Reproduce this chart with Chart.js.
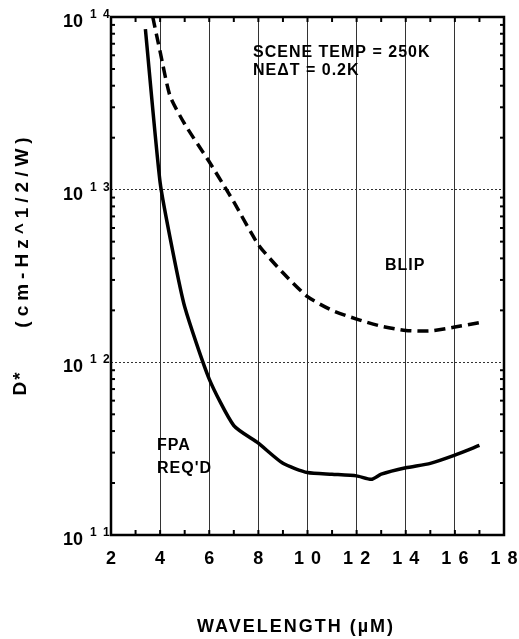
<!DOCTYPE html>
<html>
<head>
<meta charset="utf-8">
<script src="https://cdn.jsdelivr.net/npm/chart.js@4.4.0/dist/chart.umd.min.js"></script>
<style>
  body { margin: 0; background: #fff; }
  #wrap { width: 519px; height: 639px; }
</style>
</head>
<body>
<div id="wrap"><canvas id="chart_dstar" width="519" height="639"></canvas></div>
<script>
// wavelength (uM) vs D* (cm-Hz^1/2/W)
const fpaWavelength = [3.4, 4.0, 4.5, 5.0, 6.0, 7.0, 8.0, 9.0, 10.0, 11.0, 12.0, 12.6, 13.0, 14.0, 15.0, 16.0, 17.0];
const fpaDstar = [8.5e13, 1.1e13, 4.5e12, 2.1e12, 8.0e11, 4.3e11, 3.4e11, 2.6e11, 2.3e11, 2.25e11, 2.2e11, 2.1e11, 2.25e11, 2.45e11, 2.6e11, 2.9e11, 3.3e11];

const blipWavelength = [3.7, 4.0, 4.4, 5.0, 6.0, 6.7, 7.0, 8.0, 9.0, 10.0, 11.0, 12.0, 13.0, 14.0, 15.0, 16.0, 17.0];
const blipDstar = [1e14, 6.3e13, 3.5e13, 2.4e13, 1.45e13, 1.0e13, 8.5e12, 4.8e12, 3.3e12, 2.4e12, 2.0e12, 1.78e12, 1.62e12, 1.53e12, 1.52e12, 1.6e12, 1.7e12];

// axes
const xTickValues = [2, 4, 6, 8, 10, 12, 14, 16, 18];
const xTickLabels = ["2", "4", "6", "8", "10", "12", "14", "16", "18"];
const xMinorTicks = [3, 4, 5, 6, 7, 8, 9, 10, 11, 12, 13, 14, 15, 16, 17];
const yDecades = [11, 12, 13, 14];
const yMinorMultipliers = [2, 3, 4, 5, 6, 7, 8, 9];

const FONT = "'Liberation Sans', Arial, sans-serif";

// vẽ khung, nhãn, chú thích
const decorPlugin = {
    id: "decor",
    afterDraw(chart) {
        const { ctx, chartArea: a, scales: { x, y } } = chart;
        ctx.save();
        ctx.strokeStyle = "#000";
        ctx.fillStyle = "#000";

        const seg = (x1, y1, x2, y2) => { ctx.beginPath(); ctx.moveTo(x1, y1); ctx.lineTo(x2, y2); ctx.stroke(); };

        // ticks hướng vào trong
        ctx.lineWidth = 2;
        xMinorTicks.forEach(v => {
            const px = x.getPixelForValue(v);
            seg(px, a.bottom, px, a.bottom - 5);
            seg(px, a.top, px, a.top + 5);
        });
        yDecades.slice(0, -1).forEach(d => {
            yMinorMultipliers.forEach(m => {
                const py = y.getPixelForValue(m * Math.pow(10, d));
                seg(a.left, py, a.left + 4, py);
                seg(a.right, py, a.right - 4, py);
            });
        });

        // khung
        ctx.lineWidth = 2.5;
        ctx.strokeRect(a.left, a.top, a.width, a.height);

        // nhãn trục y: 10^n
        ctx.textBaseline = "alphabetic";
        yDecades.forEach(d => {
            const py = y.getPixelForValue(Math.pow(10, d));
            ctx.font = "bold 18px " + FONT;
            ctx.textAlign = "right";
            ctx.fillText("10", 83, py + 10);
            ctx.font = "bold 12px " + FONT;
            ctx.textAlign = "left";
            const s = String(d);
            ctx.fillText(s[0], 90, py + 1);
            ctx.fillText(s[1], 103, py + 1);
        });

        // nhãn trục x
        ctx.font = "bold 18px " + FONT;
        ctx.textAlign = "left";
        xTickValues.forEach((v, i) => {
            const px = x.getPixelForValue(v);
            const chars = xTickLabels[i].split("");
            const gap = 7;
            const widths = chars.map(c => ctx.measureText(c).width);
            const total = widths.reduce((s, w) => s + w, 0) + gap * (chars.length - 1);
            let cx = px - total / 2;
            chars.forEach((c, k) => { ctx.fillText(c, cx, 564); cx += widths[k] + gap; });
        });

        // tiêu đề trục x
        ctx.font = "bold 18px " + FONT;
        ctx.letterSpacing = "2px";
        ctx.textAlign = "center";
        ctx.fillText("WAVELENGTH (\u00b5M)", 296, 632);

        // tiêu đề trục y
        ctx.font = "bold 19px " + FONT;
        ctx.save();
        ctx.translate(28, 230);
        ctx.rotate(-Math.PI / 2);
        ctx.letterSpacing = "5px";
        ctx.fillText("(cm-Hz^1/2/W)", 0, 0);
        ctx.restore();
        ctx.save();
        ctx.translate(26, 383);
        ctx.rotate(-Math.PI / 2);
        ctx.letterSpacing = "2px";
        ctx.fillText("D*", 0, 0);
        ctx.restore();

        // chú thích
        ctx.font = "bold 16px " + FONT;
        ctx.letterSpacing = "1px";
        ctx.textAlign = "left";
        ctx.fillText("SCENE TEMP = 250K", 253, 57);
        ctx.fillText("NE\u0394T = 0.2K", 253, 75);
        ctx.fillText("BLIP", 385, 270);
        ctx.fillText("FPA", 157, 450);
        ctx.fillText("REQ'D", 157, 473);

        ctx.restore();
    }
};

const isDecade = v => Math.abs(Math.log10(v) - Math.round(Math.log10(v))) < 1e-6;

new Chart(document.getElementById("chart_dstar"), {
    type: "line",
    data: {
        datasets: [
            {
                label: "FPA REQ'D",
                data: fpaWavelength.map((w, i) => ({ x: w, y: fpaDstar[i] })),
                borderColor: "#000",
                borderWidth: 3.5,
                pointRadius: 0,
                tension: 0.2,
                fill: false
            },
            {
                label: "BLIP",
                data: blipWavelength.map((w, i) => ({ x: w, y: blipDstar[i] })),
                borderColor: "#000",
                borderWidth: 3.5,
                borderDash: [11, 6],
                pointRadius: 0,
                tension: 0.2,
                fill: false
            }
        ]
    },
    options: {
        responsive: false,
        animation: false,
        layout: { padding: { left: 111, right: 15, top: 17, bottom: 104 } },
        plugins: {
            legend: { display: false },
            tooltip: { enabled: false },
            title: { display: false }
        },
        scales: {
            x: {
                type: "linear",
                min: 2,
                max: 18,
                ticks: { display: false, stepSize: 2 },
                grid: {
                    drawTicks: false,
                    lineWidth: 1,
                    color: c => (c.tick && c.tick.value > 2 && c.tick.value < 18) ? "#333" : "rgba(0,0,0,0)"
                },
                border: { display: false }
            },
            y: {
                type: "logarithmic",
                min: 1e11,
                max: 1e14,
                ticks: { display: false },
                grid: {
                    drawTicks: false,
                    lineWidth: 1,
                    color: c => (c.tick && isDecade(c.tick.value) && c.tick.value > 1e11 && c.tick.value < 1e14) ? "#333" : "rgba(0,0,0,0)"
                },
                border: { display: false, dash: [2, 2] }
            }
        }
    },
    plugins: [decorPlugin]
});
</script>
</body>
</html>
